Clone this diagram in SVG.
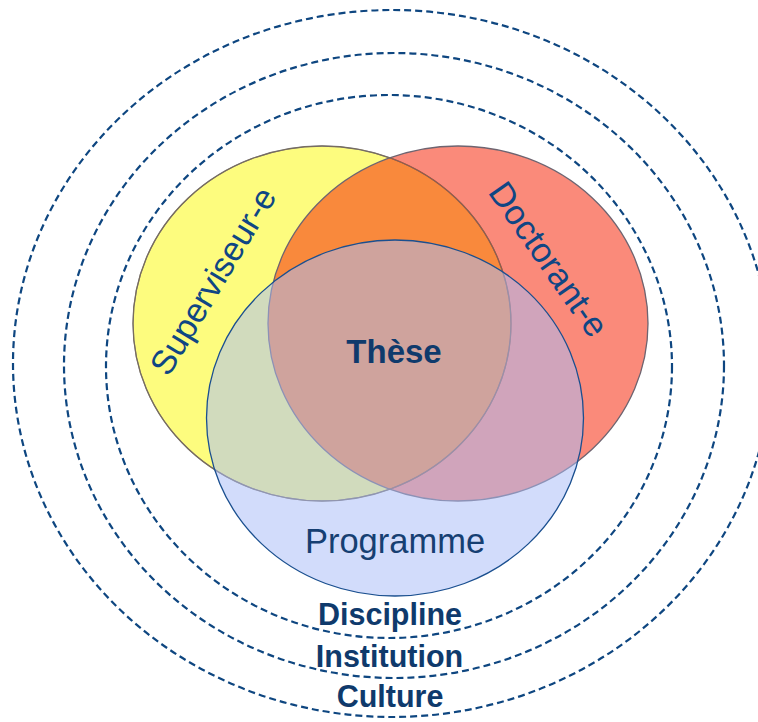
<svg xmlns="http://www.w3.org/2000/svg" width="758" height="722" viewBox="0 0 758 722">
  <style>
    .ring { fill: none; stroke: #0E4680; stroke-width: 2.2; stroke-dasharray: 7 4; }
    .lbl { font-family: "Liberation Sans", Arial, sans-serif; text-anchor: middle; }
    .bold { font-weight: bold; fill: #0F3A6C; }
    .reg { fill: #0F4684; }
  </style>
  <rect width="758" height="722" fill="#FFFFFF"/>
  <g id="rings">
    <ellipse id="ring-culture" class="ring" cx="392" cy="363.5" rx="379" ry="353.5"/>
    <ellipse id="ring-institution" class="ring" cx="394" cy="365.5" rx="330" ry="312.5"/>
    <ellipse id="ring-discipline" class="ring" cx="389" cy="366.5" rx="283" ry="271.5"/>
  </g>
  <g id="superviseur">
    <ellipse cx="322" cy="323.5" rx="189" ry="177.5" fill="#FDFC7E" stroke="#707070" stroke-width="1.3"/>
  </g>
  <g id="doctorant">
    <ellipse cx="458" cy="323.5" rx="190" ry="177.5" fill="#F51E00" fill-opacity="0.52" stroke="#6E6470" stroke-width="1.3"/>
    <ellipse cx="322" cy="323.5" rx="189" ry="177.5" fill="none" stroke="#7A6A5A" stroke-width="1.1" stroke-opacity="0.8"/>
  </g>
  <g id="programme">
    <ellipse cx="395" cy="418" rx="188.5" ry="178" fill="#A8BCF7" fill-opacity="0.52" stroke="#1A4F8F" stroke-width="1.3"/>
  </g>
  <g id="labels">
    <text class="lbl reg" font-size="34" transform="translate(223 287) rotate(-59)">Superviseur-e</text>
    <text class="lbl reg" font-size="34.5" transform="translate(539 266) rotate(55)">Doctorant-e</text>
    <text class="lbl bold" font-size="33" x="394" y="363">Thèse</text>
    <text class="lbl" font-size="34.5" x="395" y="553" fill="#163F72">Programme</text>
    <text class="lbl bold" font-size="30.5" x="390" y="625">Discipline</text>
    <text class="lbl bold" font-size="30.5" x="389.5" y="667">Institution</text>
    <text class="lbl bold" font-size="30.5" x="390" y="707">Culture</text>
  </g>
</svg>
